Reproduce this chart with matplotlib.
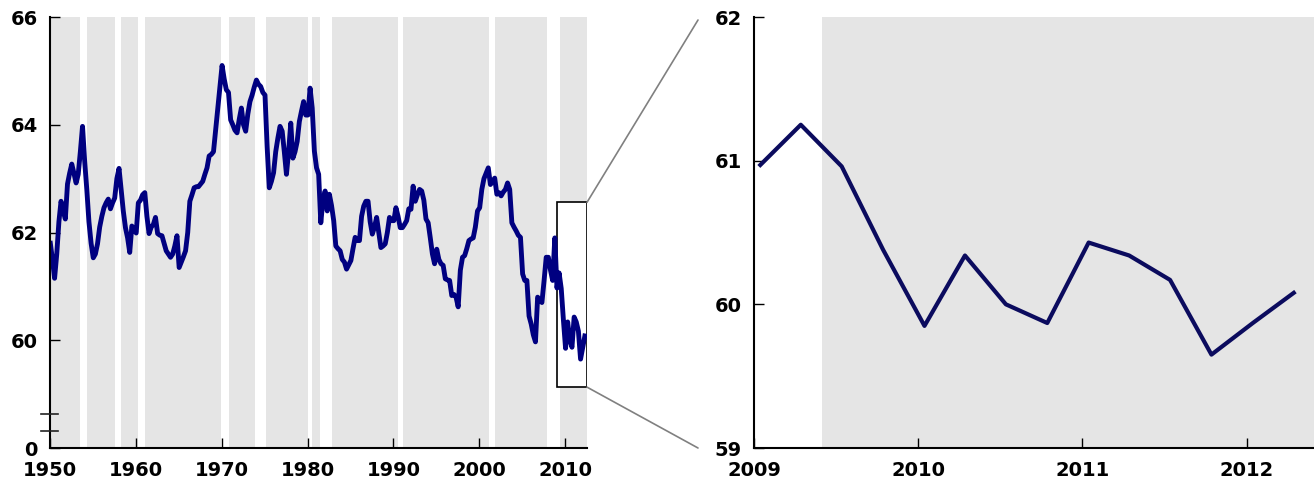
import numpy as np
import pandas as pd
import matplotlib
matplotlib.use('Agg')
import matplotlib.pyplot as plt
import matplotlib.dates as mdates
import matplotlib.transforms as mtransforms
from matplotlib.patches import Rectangle, ConnectionPatch

# quarterly values, one list per year (Q1..Q4), 1950 - 2012Q2
rate_by_year = {
    1950: [61.8, 61.5, 61.15, 61.6],
    1951: [62.2, 62.58, 62.4, 62.25],
    1952: [62.9, 63.1, 63.27, 63.1],
    1953: [62.92, 63.08, 63.5, 63.97],
    1954: [63.32, 62.8, 62.2, 61.8],
    1955: [61.53, 61.6, 61.79, 62.1],
    1956: [62.3, 62.46, 62.55, 62.62],
    1957: [62.44, 62.55, 62.64, 63.0],
    1958: [63.19, 62.8, 62.4, 62.09],
    1959: [61.9, 61.63, 62.12, 62.05],
    1960: [61.99, 62.55, 62.6, 62.7],
    1961: [62.74, 62.3, 61.98, 62.1],
    1962: [62.15, 62.28, 61.98, 61.95],
    1963: [61.94, 61.8, 61.66, 61.6],
    1964: [61.54, 61.6, 61.75, 61.94],
    1965: [61.35, 61.45, 61.55, 61.66],
    1966: [62.0, 62.58, 62.7, 62.83],
    1967: [62.85, 62.85, 62.9, 62.95],
    1968: [63.08, 63.2, 63.42, 63.45],
    1969: [63.5, 63.9, 64.3, 64.7],
    1970: [65.1, 64.85, 64.65, 64.6],
    1971: [64.09, 64.0, 63.9, 63.85],
    1972: [64.1, 64.31, 64.0, 63.88],
    1973: [64.2, 64.43, 64.55, 64.7],
    1974: [64.83, 64.75, 64.71, 64.6],
    1975: [64.55, 63.6, 62.83, 62.95],
    1976: [63.11, 63.5, 63.75, 63.97],
    1977: [63.88, 63.5, 63.08, 63.5],
    1978: [64.03, 63.38, 63.5, 63.69],
    1979: [64.06, 64.25, 64.43, 64.18],
    1980: [64.18, 64.68, 64.31, 63.51],
    1981: [63.2, 63.08, 62.18, 62.6],
    1982: [62.77, 62.4, 62.71, 62.5],
    1983: [62.22, 61.75, 61.7, 61.66],
    1984: [61.5, 61.45, 61.32, 61.4],
    1985: [61.48, 61.7, 61.91, 61.85],
    1986: [61.85, 62.3, 62.49, 62.58],
    1987: [62.58, 62.2, 61.97, 62.1],
    1988: [62.28, 62.0, 61.72, 61.75],
    1989: [61.79, 62.0, 62.28, 62.22],
    1990: [62.22, 62.46, 62.3, 62.09],
    1991: [62.09, 62.15, 62.22, 62.44],
    1992: [62.43, 62.86, 62.58, 62.7],
    1993: [62.8, 62.77, 62.6, 62.25],
    1994: [62.18, 61.9, 61.6, 61.42],
    1995: [61.69, 61.5, 61.42, 61.39],
    1996: [61.14, 61.12, 61.11, 60.83],
    1997: [60.85, 60.8, 60.62, 61.3],
    1998: [61.54, 61.57, 61.7, 61.85],
    1999: [61.88, 61.9, 62.1, 62.4],
    2000: [62.46, 62.8, 63.0, 63.1],
    2001: [63.2, 62.89, 62.95, 63.01],
    2002: [62.71, 62.74, 62.68, 62.75],
    2003: [62.8, 62.92, 62.8, 62.18],
    2004: [62.1, 62.03, 61.95, 61.91],
    2005: [61.23, 61.11, 61.11, 60.45],
    2006: [60.3, 60.1, 59.97, 60.8],
    2007: [60.75, 60.7, 61.1, 61.54],
    2008: [61.54, 61.3, 61.11, 61.9],
    2009: [60.97, 61.25, 60.96, 60.38],
    2010: [59.85, 60.34, 60.00, 59.87],
    2011: [60.43, 60.34, 60.17, 59.65],
    2012: [59.87, 60.08],
}

# recessions (peak, trough) - white gaps
recession_start = ['1953-07-01', '1957-08-01', '1960-04-01', '1969-12-01', '1973-11-01',
                   '1980-01-01', '1981-07-01', '1990-07-01', '2001-03-01', '2007-12-01']
recession_end = ['1954-05-01', '1958-04-01', '1961-02-01', '1970-11-01', '1975-03-01',
                 '1980-07-01', '1982-11-01', '1991-03-01', '2001-11-01', '2009-06-01']

left_yticks = [60, 62, 64, 66]
right_yticks = [59, 60, 61, 62]

values = np.concatenate([rate_by_year[y] for y in sorted(rate_by_year)])
dates = pd.date_range('1950-01-01', periods=len(values), freq='QS') + pd.Timedelta(days=14)

line_color = '#000080'
shade = '#e5e5e5'

fig = plt.figure(figsize=(13.14, 4.86), dpi=100)
ax1 = fig.add_axes([50 / 1314, 38 / 486, 537 / 1314, 431 / 486])
ax2 = fig.add_axes([754 / 1314, 38 / 486, 560 / 1314, 431 / 486])

left_x0, left_x1 = pd.Timestamp('1950-01-01'), pd.Timestamp('2012-07-15')
right_x0, right_x1 = pd.Timestamp('2009-01-01'), pd.Timestamp('2012-05-30')
ylo, yhi = 58, 66
box_lo, box_hi = 59.13, 62.56

# expansion shading: gaps between recessions
starts = [left_x0] + [pd.Timestamp(d) for d in recession_end]
ends = [pd.Timestamp(d) for d in recession_start] + [left_x1]
for s, e in zip(starts, ends):
    ax1.axvspan(s, e, color=shade, lw=0, zorder=0)
    if e > right_x0:
        ax2.axvspan(max(s, right_x0), right_x1, color=shade, lw=0, zorder=0)

# zoom box
box = Rectangle((mdates.date2num(right_x0), box_lo),
                mdates.date2num(left_x1) - mdates.date2num(right_x0), box_hi - box_lo,
                facecolor='white', edgecolor='black', lw=1.2, zorder=1)
ax1.add_patch(box)

ax1.plot(dates, values, color=line_color, lw=3.5, zorder=3)
mask = dates >= right_x0
ax2.plot(dates[mask], values[mask], color='#0b0b5e', lw=3.0, zorder=3)

ax1.set_xlim(left_x0, left_x1)
ax1.set_ylim(ylo, yhi)
ax1.set_yticks([ylo] + left_yticks)
ax1.set_yticklabels(['0'] + [str(t) for t in left_yticks])
ax1.xaxis.set_major_locator(mdates.YearLocator(10))
ax1.xaxis.set_major_formatter(mdates.DateFormatter('%Y'))

ax2.set_xlim(right_x0, right_x1)
ax2.set_ylim(59, 62)
ax2.set_yticks(right_yticks)
ax2.xaxis.set_major_locator(mdates.YearLocator(1))
ax2.xaxis.set_major_formatter(mdates.DateFormatter('%Y'))

for ax in [ax1, ax2]:
    ax.spines[['top', 'right']].set_visible(False)
    for sp in ['left', 'bottom']:
        ax.spines[sp].set_linewidth(1.5)
        ax.spines[sp].set_zorder(4)
    ax.tick_params(direction='in', length=7, width=1, labelsize=14, pad=9)
    for lab in ax.get_xticklabels() + ax.get_yticklabels():
        lab.set_fontweight('bold')

# axis break marks
trans = mtransforms.blended_transform_factory(ax1.transAxes, ax1.transData)
for yb in [58.31, 58.63]:
    ax1.plot([-0.017, 0.015], [yb, yb], color='#222222', lw=1.2, transform=trans, clip_on=False, zorder=5)

# connector lines from the box corners to the zoomed panel
for ya, yb in [(box_hi, 0.993), (box_lo, 0.0)]:
    con = ConnectionPatch(xyA=(1.0, (ya - ylo) / (yhi - ylo)), coordsA='axes fraction', axesA=ax1,
                          xyB=(-0.1, yb), coordsB='axes fraction', axesB=ax2,
                          color='#808080', lw=1.2)
    fig.add_artist(con)

plt.savefig('out.png', dpi=100)
plt.close()
